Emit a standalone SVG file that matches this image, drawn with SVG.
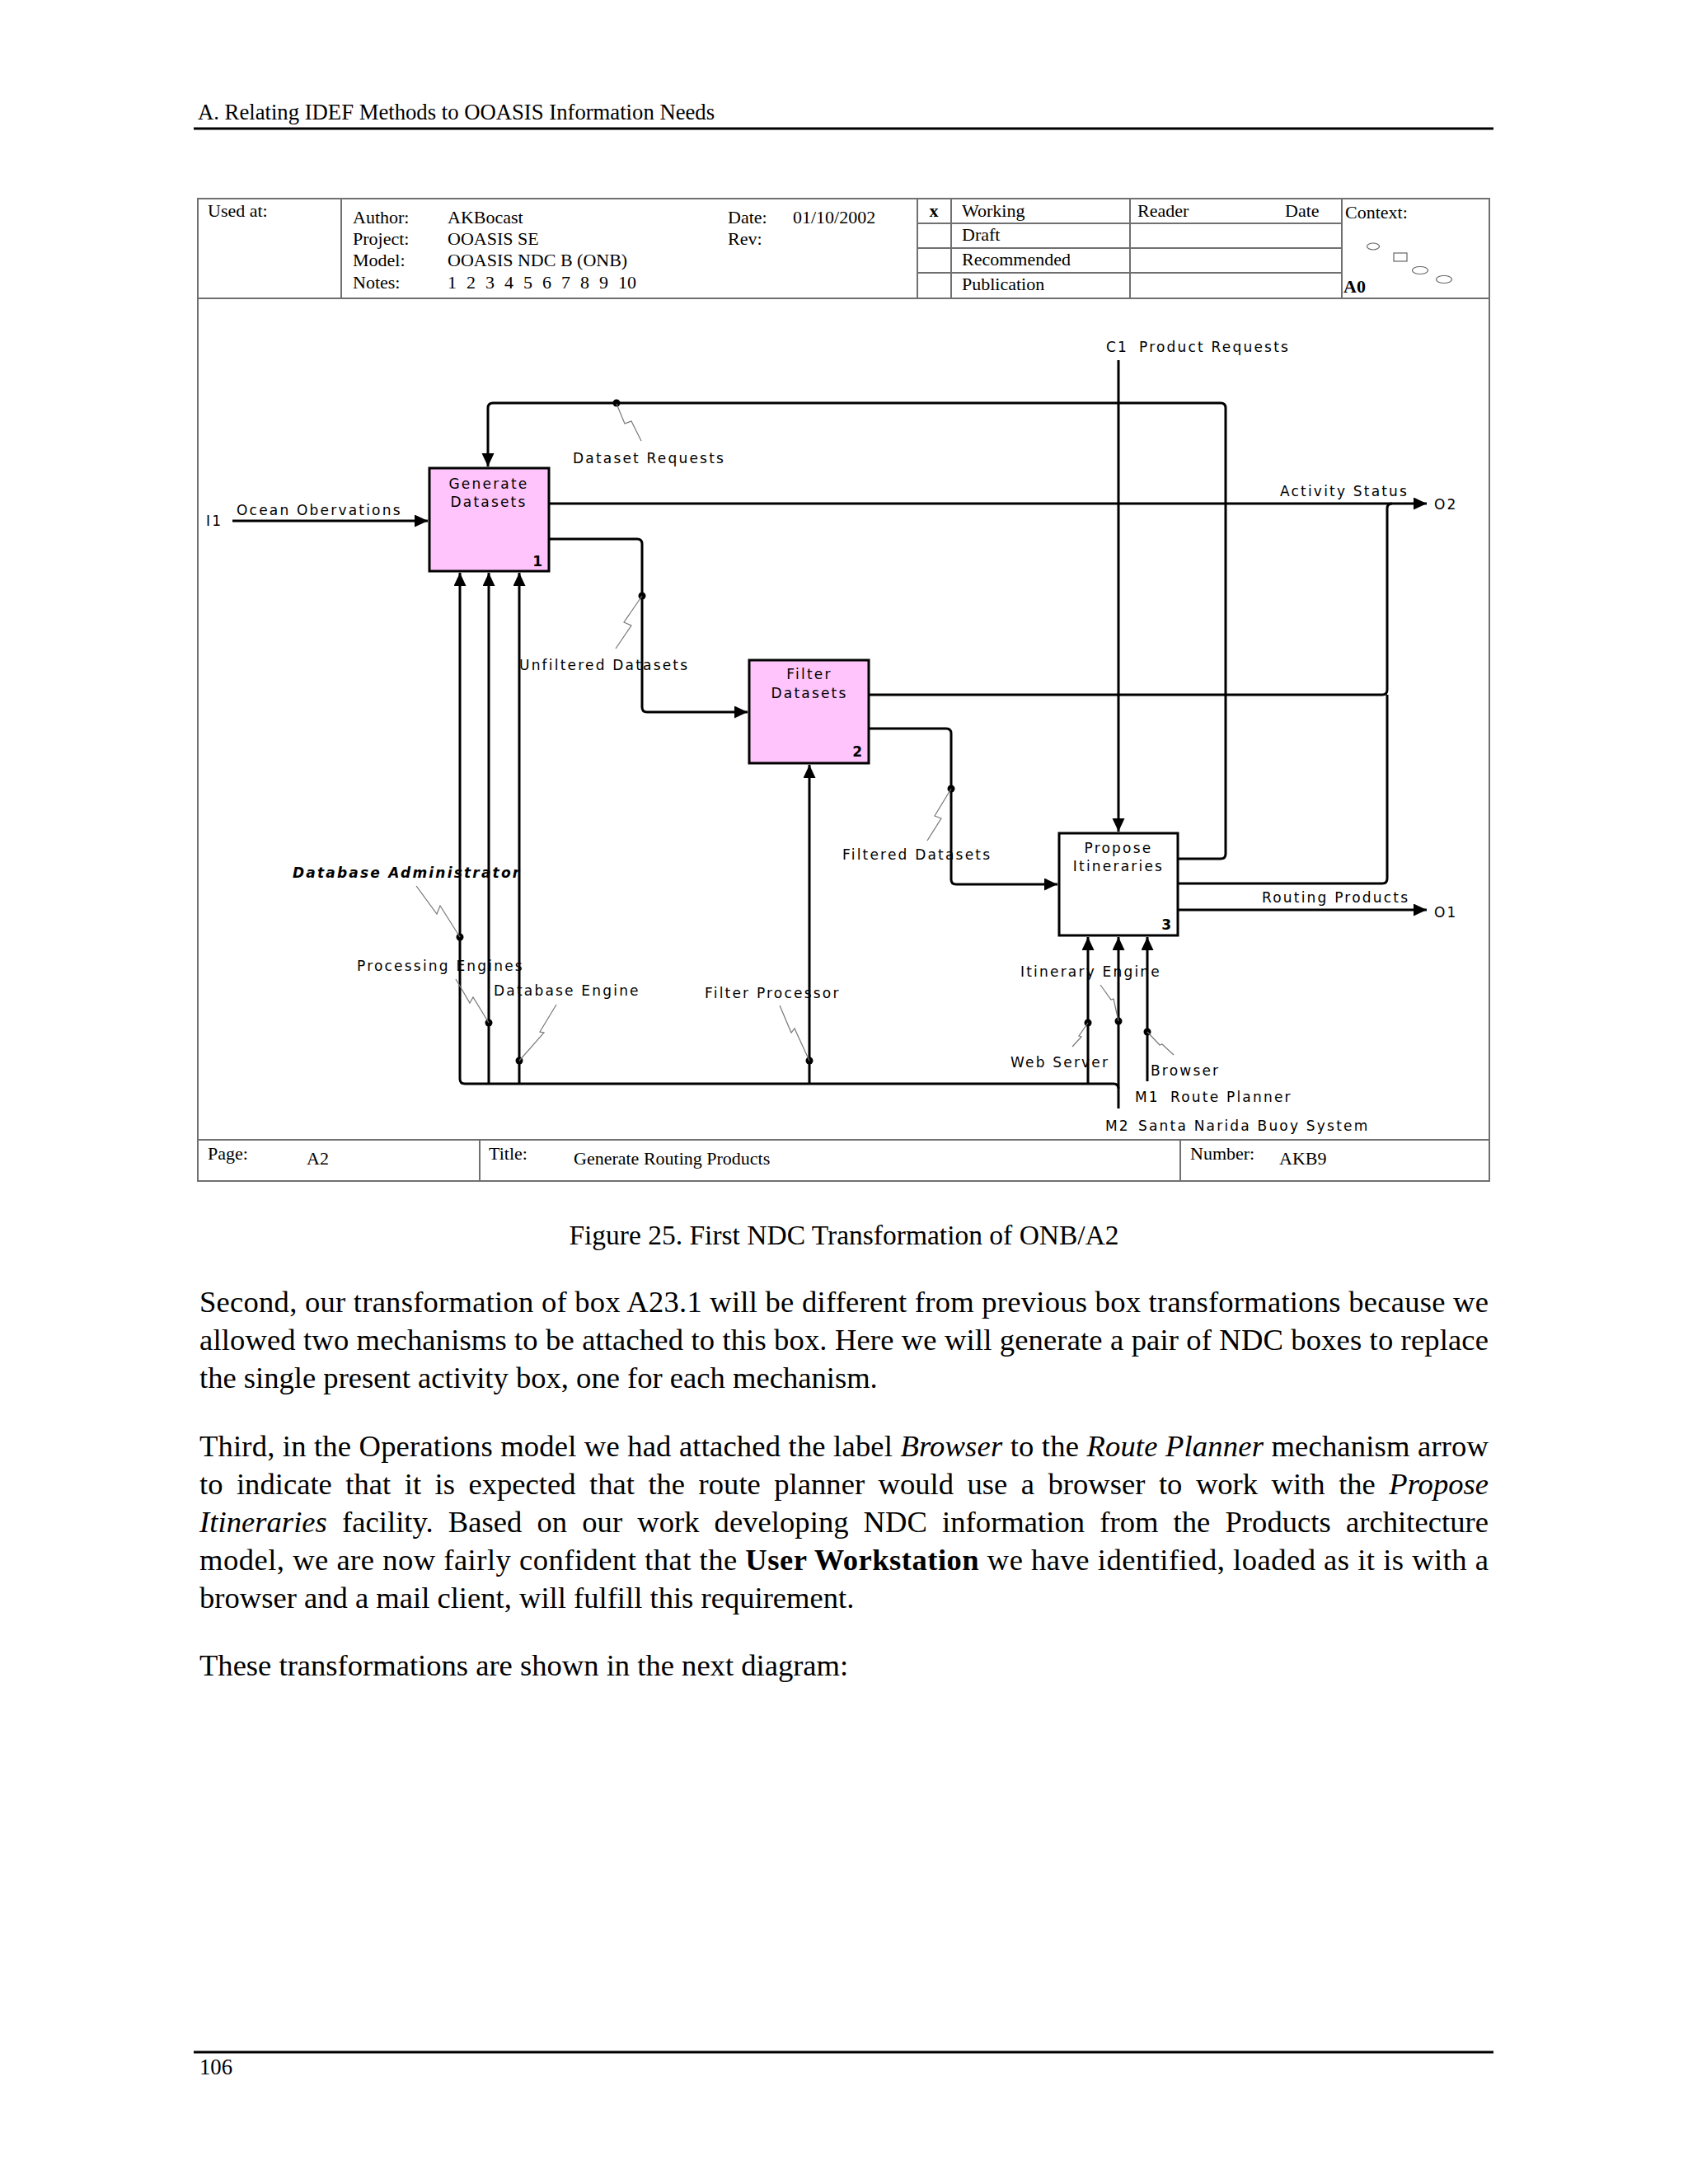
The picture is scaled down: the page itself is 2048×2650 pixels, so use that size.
<svg xmlns="http://www.w3.org/2000/svg" width="2048" height="2650" viewBox="0 0 2048 2650">
<style>
.ser{font-family:"Liberation Serif","Times New Roman",serif;fill:#000}
.hd{font-size:22px}
.body{font-size:36.6px}
.lbl{font-family:"DejaVu Sans",Verdana,sans-serif;font-size:17px;letter-spacing:2.2px;fill:#000}
.num{font-family:"DejaVu Sans",Verdana,sans-serif;font-size:17px;font-weight:bold;fill:#000}
.frame{fill:none;stroke:#707070;stroke-width:2}
.box{stroke:#000;stroke-width:3}
.con{fill:none;stroke:#000;stroke-width:3}
.sq{fill:none;stroke:#777;stroke-width:1.2}
.dot{fill:#000}
</style>
<defs>
<marker id="ah" markerUnits="userSpaceOnUse" markerWidth="18" markerHeight="16" refX="16" refY="7.5" orient="auto">
<path d="M0,0 L16,7.5 L0,15 z" fill="#000"/>
</marker>
</defs>
<rect width="2048" height="2650" fill="#fff"/>

<g id="page-header">
<text class="ser" x="240" y="145" font-size="26.7">A. Relating IDEF Methods to OOASIS Information Needs</text>
<line x1="235" y1="156" x2="1812" y2="156" stroke="#000" stroke-width="3"/>
</g>

<g id="form-frame">
<rect class="frame" x="240" y="241" width="1567" height="1192"/>
<line class="frame" x1="240" y1="362" x2="1807" y2="362"/>
<line class="frame" x1="414" y1="241" x2="414" y2="362"/>
<line class="frame" x1="1113" y1="241" x2="1113" y2="362"/>
<line class="frame" x1="1154" y1="241" x2="1154" y2="362"/>
<line class="frame" x1="1371" y1="241" x2="1371" y2="362"/>
<line class="frame" x1="1628" y1="241" x2="1628" y2="362"/>
<line class="frame" x1="1113" y1="271" x2="1628" y2="271"/>
<line class="frame" x1="1113" y1="301" x2="1628" y2="301"/>
<line class="frame" x1="1113" y1="331" x2="1628" y2="331"/>
<line class="frame" x1="240" y1="1383" x2="1807" y2="1383"/>
<line class="frame" x1="582" y1="1383" x2="582" y2="1433"/>
<line class="frame" x1="1432" y1="1383" x2="1432" y2="1433"/>
<g class="ser hd">
<text x="252" y="263">Used at:</text>
<text x="428" y="271">Author:</text><text x="543" y="271">AKBocast</text>
<text x="428" y="297">Project:</text><text x="543" y="297">OOASIS SE</text>
<text x="428" y="323">Model:</text><text x="543" y="323">OOASIS NDC B (ONB)</text>
<text x="428" y="350">Notes:</text><text x="543" y="350" word-spacing="6.5">1 2 3 4 5 6 7 8 9 10</text>
<text x="883" y="271">Date:</text><text x="962" y="271">01/10/2002</text>
<text x="883" y="297">Rev:</text>
<text x="1133" y="263" text-anchor="middle" font-weight="bold">x</text>
<text x="1167" y="263">Working</text>
<text x="1167" y="292">Draft</text>
<text x="1167" y="322">Recommended</text>
<text x="1167" y="352">Publication</text>
<text x="1380" y="263">Reader</text>
<text x="1559" y="263">Date</text>
<text x="1632" y="265">Context:</text>
<text x="1630" y="355" font-weight="bold">A0</text>
<text x="252" y="1407">Page:</text><text x="372" y="1413">A2</text>
<text x="593" y="1407">Title:</text><text x="696" y="1413">Generate Routing Products</text>
<text x="1444" y="1407">Number:</text><text x="1552" y="1413">AKB9</text>
</g>
<g fill="none" stroke="#666" stroke-width="1.2">
<ellipse cx="1666" cy="299" rx="7.5" ry="4"/>
<rect x="1691" y="307" width="16" height="10"/>
<ellipse cx="1723" cy="328" rx="9.5" ry="4.5"/>
<ellipse cx="1752" cy="339" rx="9.5" ry="4.5"/>
</g>
</g>

<g id="connectors">
<path class="con" d="M282,632 H519" marker-end="url(#ah)"/>
<path class="con" d="M1429,1042 H1481 Q1487,1042 1487,1036 V495 Q1487,489 1481,489 H598 Q592,489 592,495 V566" marker-end="url(#ah)"/>
<path class="con" d="M666,611 H1731" marker-end="url(#ah)"/>
<path class="con" d="M1054,843 H1677 Q1683,843 1683,837 V617 Q1683,611 1689,611"/>
<path class="con" d="M1429,1072 H1677 Q1683,1072 1683,1066 V843"/>
<path class="con" d="M666,654 H773 Q779,654 779,660 V858 Q779,864 785,864 H907" marker-end="url(#ah)"/>
<path class="con" d="M1054,884 H1148 Q1154,884 1154,890 V1067 Q1154,1073 1160,1073 H1283" marker-end="url(#ah)"/>
<path class="con" d="M1357,437 V1009" marker-end="url(#ah)"/>
<path class="con" d="M1429,1104 H1731" marker-end="url(#ah)"/>
<path class="con" d="M1357,1345 V1137" marker-end="url(#ah)"/>
<path class="con" d="M1357,1321 Q1357,1315 1351,1315 H564 Q558,1315 558,1309 V695" marker-end="url(#ah)"/>
<path class="con" d="M593,1315 V695" marker-end="url(#ah)"/>
<path class="con" d="M630,1315 V695" marker-end="url(#ah)"/>
<path class="con" d="M982,1315 V928" marker-end="url(#ah)"/>
<path class="con" d="M1320,1315 V1137" marker-end="url(#ah)"/>
<path class="con" d="M1392,1312 V1137" marker-end="url(#ah)"/>
<g class="dots">
<circle class="dot" cx="748" cy="489" r="4.5"/>
<circle class="dot" cx="779" cy="723" r="4.5"/>
<circle class="dot" cx="1154" cy="957" r="4.5"/>
<circle class="dot" cx="558" cy="1137" r="4.5"/>
<circle class="dot" cx="593" cy="1241" r="4.5"/>
<circle class="dot" cx="630" cy="1287" r="4.5"/>
<circle class="dot" cx="982" cy="1287" r="4.5"/>
<circle class="dot" cx="1320" cy="1241" r="4.5"/>
<circle class="dot" cx="1357" cy="1239" r="4.5"/>
<circle class="dot" cx="1392" cy="1252" r="4.5"/>
</g>
<g class="squiggles">
<path class="sq" d="M748,490 L758,514 L766,511 L778,535"/>
<path class="sq" d="M779,723 L757,755 L766,759 L747,787"/>
<path class="sq" d="M1154,957 L1134,990 L1142,993 L1125,1020"/>
<path class="sq" d="M505,1075 L530,1109 L534,1099 L558,1137"/>
<path class="sq" d="M553,1188 L570,1217 L574,1210 L593,1241"/>
<path class="sq" d="M675,1219 L655,1252 L660,1253 L630,1287"/>
<path class="sq" d="M946,1220 L960,1253 L964,1248 L982,1287"/>
<path class="sq" d="M1335,1195 L1348,1213 L1351,1212 L1357,1239"/>
<path class="sq" d="M1320,1241 L1309,1257 L1312,1258 L1301,1270"/>
<path class="sq" d="M1392,1252 L1407,1268 L1410,1267 L1424,1280"/>
</g>
</g>

<g id="box1">
<rect class="box" x="521" y="568" width="145" height="125" fill="#ffc4fc"/>
<text class="lbl" x="593" y="593" text-anchor="middle">Generate</text>
<text class="lbl" x="593" y="615" text-anchor="middle">Datasets</text>
<text class="num" x="658" y="687" text-anchor="end">1</text>
</g>
<g id="box2">
<rect class="box" x="909" y="801" width="145" height="125" fill="#ffc4fc"/>
<text class="lbl" x="982" y="824" text-anchor="middle">Filter</text>
<text class="lbl" x="982" y="847" text-anchor="middle">Datasets</text>
<text class="num" x="1046" y="918" text-anchor="end">2</text>
</g>
<g id="box3">
<rect class="box" x="1285" y="1011" width="144" height="124" fill="#fff"/>
<text class="lbl" x="1357" y="1035" text-anchor="middle">Propose</text>
<text class="lbl" x="1357" y="1057" text-anchor="middle">Itineraries</text>
<text class="num" x="1421" y="1128" text-anchor="end">3</text>
</g>

<g id="arrow-labels">
<text class="lbl" x="250" y="638">I1</text>
<text class="lbl" x="287" y="625">Ocean Obervations</text>
<text class="lbl" x="695" y="562">Dataset Requests</text>
<text class="lbl" x="1342" y="427">C1</text>
<text class="lbl" x="1382" y="427">Product Requests</text>
<text class="lbl" x="1553" y="602">Activity Status</text>
<text class="lbl" x="1740" y="618">O2</text>
<text class="lbl" x="630" y="813">Unfiltered Datasets</text>
<text class="lbl" x="1022" y="1043">Filtered Datasets</text>
<text class="lbl" x="1531" y="1095">Routing Products</text>
<text class="lbl" x="1740" y="1113">O1</text>
<text class="lbl" x="355" y="1065" font-weight="bold" font-style="italic">Database Administrator</text>
<text class="lbl" x="433" y="1178">Processing Engines</text>
<text class="lbl" x="599" y="1208">Database Engine</text>
<text class="lbl" x="855" y="1211">Filter Processor</text>
<text class="lbl" x="1238" y="1185">Itinerary Engine</text>
<text class="lbl" x="1226" y="1295">Web Server</text>
<text class="lbl" x="1396" y="1305">Browser</text>
<text class="lbl" x="1377" y="1337">M1</text>
<text class="lbl" x="1420" y="1337">Route Planner</text>
<text class="lbl" x="1341" y="1372">M2</text>
<text class="lbl" x="1381" y="1372">Santa Narida Buoy System</text>
</g>

<g id="body-text" class="ser body">
<text x="1024" y="1510" text-anchor="middle" font-size="33.5">Figure 25. First NDC Transformation of ONB/A2</text>
<text x="242" y="1592" textLength="1564" lengthAdjust="spacing">Second, our transformation of box A23.1 will be different from previous box transformations because we</text>
<text x="242" y="1638" textLength="1564" lengthAdjust="spacing">allowed two mechanisms to be attached to this box. Here we will generate a pair of NDC boxes to replace</text>
<text x="242" y="1684">the single present activity box, one for each mechanism.</text>
<text x="242" y="1767" textLength="1564" lengthAdjust="spacing">Third, in the Operations model we had attached the label <tspan font-style="italic">Browser</tspan> to the <tspan font-style="italic">Route Planner</tspan> mechanism arrow</text>
<text x="242" y="1813" word-spacing="7.3" textLength="1564" lengthAdjust="spacing">to indicate that it is expected that the route planner would use a browser to work with the <tspan font-style="italic">Propose</tspan></text>
<text x="242" y="1859" word-spacing="8.9" textLength="1564" lengthAdjust="spacing"><tspan font-style="italic">Itineraries</tspan> facility. Based on our work developing NDC information from the Products architecture</text>
<text x="242" y="1905" textLength="1564" lengthAdjust="spacing">model, we are now fairly confident that the <tspan font-weight="bold">User Workstation</tspan> we have identified, loaded as it is with a</text>
<text x="242" y="1951">browser and a mail client, will fulfill this requirement.</text>
<text x="242" y="2033">These transformations are shown in the next diagram:</text>
</g>

<g id="page-footer">
<line x1="235" y1="2490" x2="1812" y2="2490" stroke="#000" stroke-width="3"/>
<text class="ser" x="242" y="2517" font-size="26.7">106</text>
</g>
</svg>
